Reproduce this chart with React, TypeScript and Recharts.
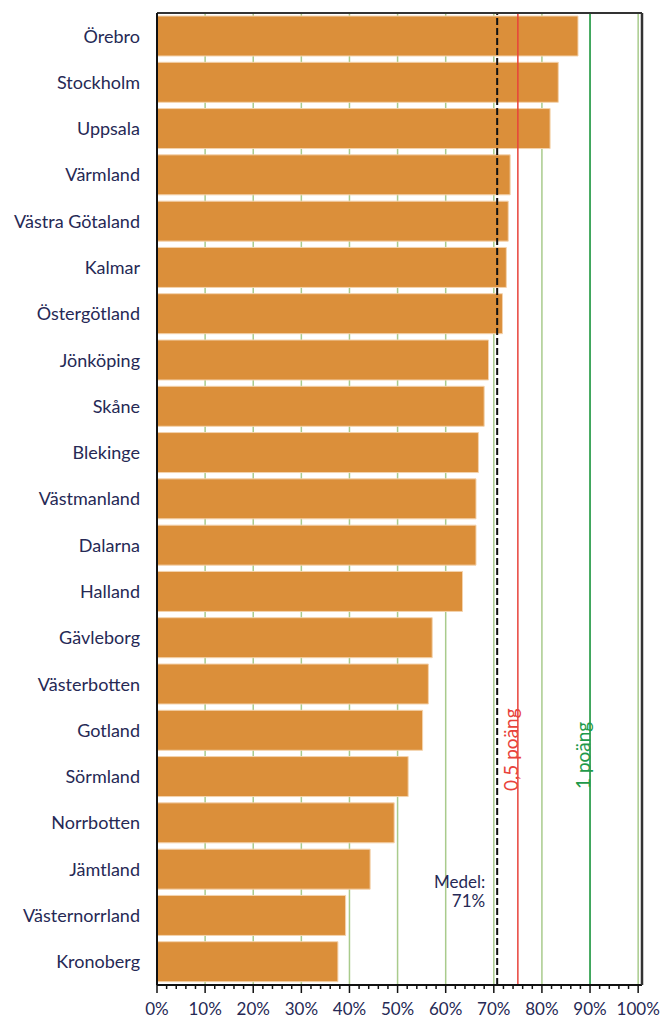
import { BarChart, Bar, XAxis, YAxis, CartesianGrid, ReferenceLine } from "recharts";

const LAN = [
  "Örebro", "Stockholm", "Uppsala", "Värmland", "Västra Götaland", "Kalmar", "Östergötland",
  "Jönköping", "Skåne", "Blekinge", "Västmanland", "Dalarna", "Halland", "Gävleborg",
  "Västerbotten", "Gotland", "Sörmland", "Norrbotten", "Jämtland", "Västernorrland", "Kronoberg",
];
const ANDEL = [
  87.5, 83.4, 81.7, 73.4, 73.0, 72.6, 71.8,
  68.9, 68.0, 66.8, 66.3, 66.3, 63.5, 57.2,
  56.4, 55.2, 52.2, 49.3, 44.3, 39.2, 37.6,
];
const MAJOR_TICKS = [0, 10, 20, 30, 40, 50, 60, 70, 80, 90, 100];
const ALL_TICKS = [
  0, 2, 4, 6, 8, 10, 12, 14, 16, 18, 20, 22, 24, 26, 28, 30, 32, 34, 36, 38, 40, 42, 44, 46, 48, 50,
  52, 54, 56, 58, 60, 62, 64, 66, 68, 70, 72, 74, 76, 78, 80, 82, 84, 86, 88, 90, 92, 94, 96, 98, 100,
];
const MEDEL = 70.7;
const HALV_POANG = 75;
const HEL_POANG = 90;

const data = LAN.map((name, i) => ({ name, value: ANDEL[i] }));

const FONT = "Lato, 'Open Sans', sans-serif";
const TEXT = "#262955";

function XTick(props: any) {
  const { x, y, payload } = props;
  const major = MAJOR_TICKS.includes(payload.value);
  return (
    <g>
      <line x1={x} x2={x} y1={y} y2={y + (major ? 8 : 4)} stroke="#111" strokeWidth={1.5} />
      {major && (
        <text x={x} y={y + 30} textAnchor="middle" fontSize={17} fontFamily={FONT} fill={TEXT}>
          {payload.value}%
        </text>
      )}
    </g>
  );
}

function rotatedLabel(text: string, color: string, lift: number) {
  return (props: any) => {
    const vb = props.viewBox;
    const x = vb.x;
    const y = vb.y + vb.height - lift;
    return (
      <text x={x} y={y} transform={`rotate(-90, ${x}, ${y})`} fontSize={19} fontFamily={FONT} fill={color}>
        {text}
      </text>
    );
  };
}

function medelLabel(props: any) {
  const vb = props.viewBox;
  const x = vb.x - 12;
  const y = vb.y + vb.height - 97;
  return (
    <text textAnchor="end" fontSize={17} fontFamily={FONT} fill={TEXT}>
      <tspan x={x} y={y}>Medel:</tspan>
      <tspan x={x} y={y + 19}>71%</tspan>
    </text>
  );
}

export default function App() {
  return (
    <div style={{ position: "absolute", left: 0, top: 0, background: "#fff" }}>
      <BarChart
        width={662}
        height={1019}
        data={data}
        layout="vertical"
        margin={{ top: 12, right: 19, bottom: 4, left: 0 }}
        barSize={40}
      >
        <CartesianGrid horizontal={false} vertical stroke="#a9cb8c" strokeWidth={1.5} verticalValues={MAJOR_TICKS} />
        <XAxis
          type="number"
          domain={[0, 100.8]}
          ticks={ALL_TICKS}
          interval={0}
          height={30}
          tickSize={0}
          tickMargin={0}
          tickLine={false}
          tick={<XTick />}
          axisLine={{ stroke: "#111", strokeWidth: 2 }}
        />
        <XAxis
          xAxisId="top"
          orientation="top"
          type="number"
          domain={[0, 100.8]}
          height={1}
          tick={false}
          tickLine={false}
          axisLine={{ stroke: "#333", strokeWidth: 2 }}
        />
        <YAxis
          type="category"
          dataKey="name"
          width={157}
          interval={0}
          tickLine={false}
          tickMargin={11}
          axisLine={{ stroke: "#111", strokeWidth: 2 }}
          tick={{ fontSize: 18, fontFamily: FONT, fill: TEXT }}
        />
        <YAxis
          yAxisId="right"
          orientation="right"
          type="category"
          dataKey="name"
          width={1}
          tick={false}
          tickLine={false}
          axisLine={{ stroke: "#333", strokeWidth: 2.5 }}
        />
        <Bar dataKey="value" fill="#db8f3a" stroke="#f4d3ad" strokeWidth={1} isAnimationActive={false} />
        <ReferenceLine x={MEDEL} stroke="#111" strokeWidth={2} strokeDasharray="7 3" label={medelLabel} />
        <ReferenceLine x={HALV_POANG} stroke="#e8433b" strokeWidth={1.5} label={rotatedLabel("0,5 poäng", "#e8433b", 194)} />
        <ReferenceLine x={HEL_POANG} stroke="#1f9a4a" strokeWidth={1.5} label={rotatedLabel("1 poäng", "#1f9a4a", 196)} />
      </BarChart>
    </div>
  );
}
